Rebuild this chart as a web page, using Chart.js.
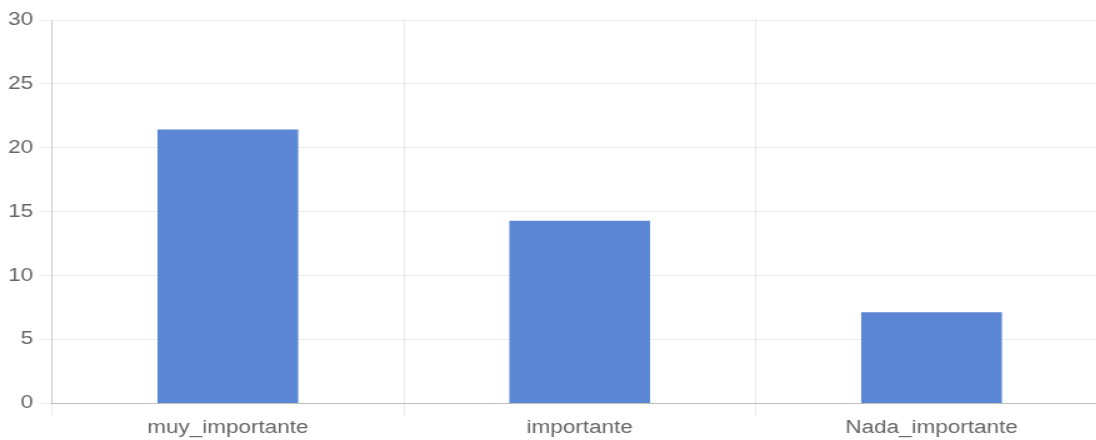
<!DOCTYPE html>
<html>
<head>
<meta charset="utf-8">
<script src="https://cdn.jsdelivr.net/npm/chart.js@4/dist/chart.umd.min.js"></script>
<style>
  html, body { margin: 0; padding: 0; background: #fff; overflow: hidden; }
  #wrap {
    position: relative;
    width: 886px;
    height: 440px;
    transform: scaleX(1.25);
    transform-origin: 0 0;
  }
</style>
</head>
<body>
<div id="wrap"><canvas id="chart"></canvas></div>
<script>
const categories = ["muy_importante", "importante", "Nada_importante"];
const values = [21.43, 14.29, 7.14];
const yTicks = [0, 5, 10, 15, 20, 25, 30];

const ctx = document.getElementById("chart").getContext("2d");
new Chart(ctx, {
    type: "bar",
    data: {
        labels: categories,
        datasets: [{
            data: values,
            backgroundColor: "#5a86d3",
            borderWidth: 0,
            barPercentage: 0.5,
            categoryPercentage: 0.8
        }]
    },
    options: {
        responsive: true,
        maintainAspectRatio: false,
        animation: false,
        layout: { padding: { top: 20, left: 2.5, right: 0, bottom: 0 } },
        plugins: {
            legend: { display: false },
            tooltip: { enabled: false }
        },
        scales: {
            x: {
                grid: { color: "rgba(0,0,0,0.09)", tickLength: 13, offset: true },
                border: { color: "rgba(0,0,0,0.2)" },
                ticks: {
                    color: "#666",
                    padding: 1,
                    font: { family: "'Liberation Sans', Arial, sans-serif", size: 18 }
                }
            },
            y: {
                min: 0,
                max: 30,
                afterBuildTicks: axis => { axis.ticks = yTicks.map(v => ({ value: v })); },
                grid: { color: "rgba(0,0,0,0.07)", tickLength: 11 },
                border: { color: "rgba(0,0,0,0.12)" },
                ticks: {
                    color: "#666",
                    padding: 4,
                    font: { family: "'Liberation Sans', Arial, sans-serif", size: 18 }
                }
            }
        }
    }
});
</script>
</body>
</html>
